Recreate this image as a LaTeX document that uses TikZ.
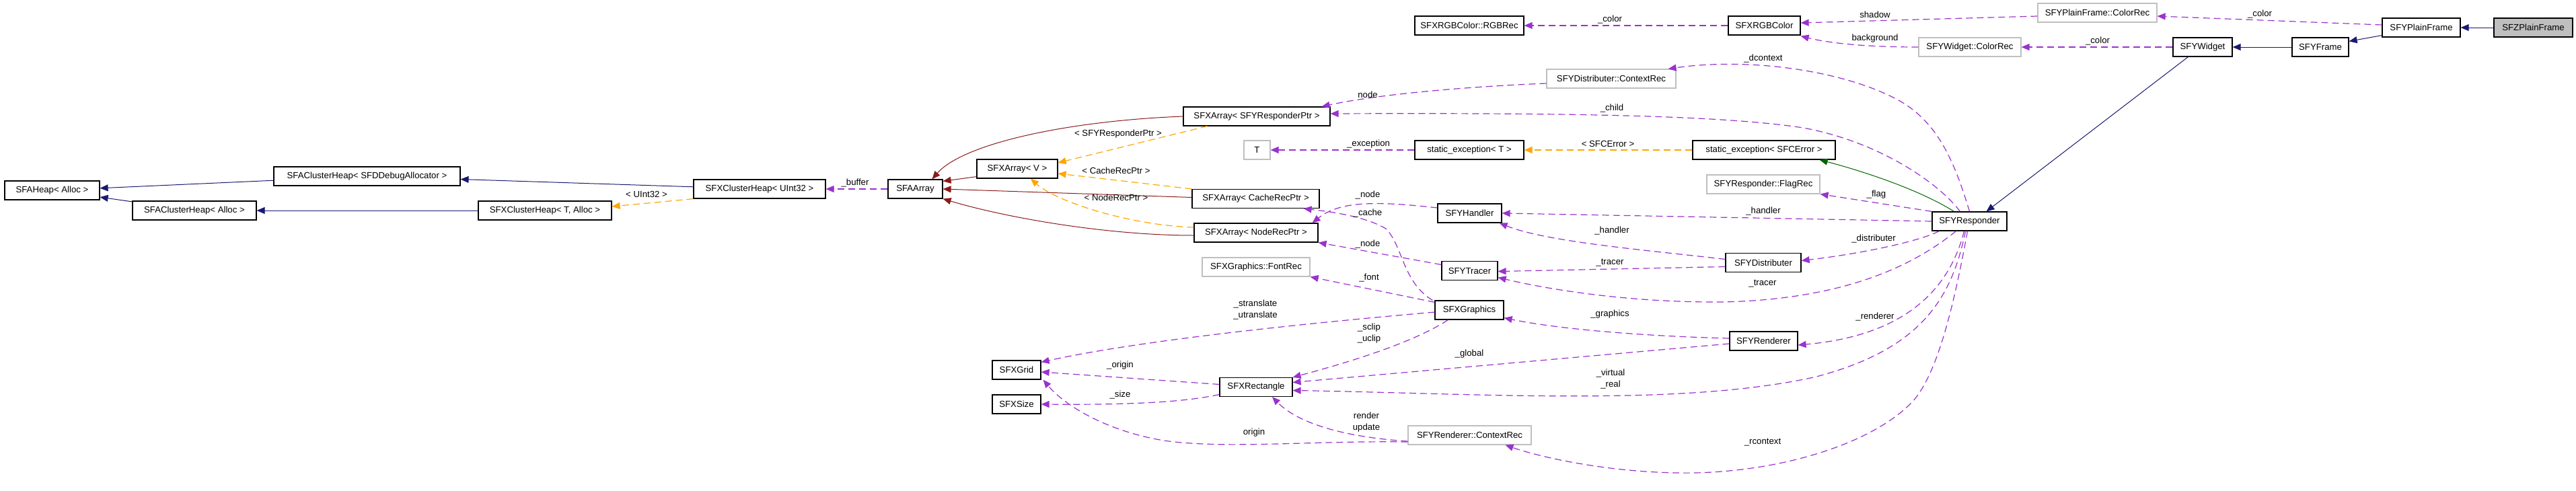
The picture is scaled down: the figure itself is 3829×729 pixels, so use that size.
\documentclass[tikz,border=0pt]{standalone}
\usepackage{fontspec}
\setmainfont{Liberation Sans}
\usetikzlibrary{arrows.meta,calc}
\definecolor{navyc}{HTML}{191970}
\definecolor{firec}{HTML}{8B1A1A}
\definecolor{orchidc}{HTML}{9A32CD}
\definecolor{orangec}{HTML}{FFA500}
\definecolor{greenc}{HTML}{006400}
\definecolor{greyc}{HTML}{BFBFBF}
\tikzset{
  box/.style={draw=black, line width=0.6pt, rectangle, minimum height=14pt, inner sep=0pt, fill=white},
  gbox/.style={box, draw=greyc},
  cur/.style={box, fill=greyc},
  edgebase/.style={line width=0.5pt, -{Triangle[length=6pt,width=5pt]}},
  inh/.style={edgebase, draw=navyc},
  prot/.style={edgebase, draw=firec},
  priv/.style={edgebase, draw=greenc},
  usage/.style={edgebase, line width=0.6pt, draw=orchidc, dash pattern=on 5pt off 3pt},
  tmpl/.style={edgebase, line width=0.6pt, draw=orangec, dash pattern=on 5pt off 3pt},
  lbl/.style={inner sep=0pt, align=center}
}
\begin{document}
\begin{tikzpicture}[x=0.5pt,y=-0.5pt,font=\fontsize{6.6}{8.5}\selectfont]
\useasboundingbox (0,0) rectangle (3829,729);
% nodes
\node[box, minimum width=70.5pt] (heap) at (77.5,283) {SFAHeap< Alloc >};
\node[box, minimum width=138.5pt] (acdbg) at (545.5,262) {SFAClusterHeap< SFDDebugAllocator >};
\node[box, minimum width=92pt] (acheap) at (289,313) {SFAClusterHeap< Alloc >};
\node[box, minimum width=99pt] (xcheapT) at (810,313) {SFXClusterHeap< T, Alloc >};
\node[box, minimum width=98pt] (xcheapU) at (1129,281) {SFXClusterHeap< UInt32 >};
\node[box, minimum width=40.5pt] (aarray) at (1360.5,281) {SFAArray};
\node[box, minimum width=60pt] (xarrV) at (1512,251) {SFXArray< V >};
\node[box, minimum width=109pt] (xarrResp) at (1868,173) {SFXArray< SFYResponderPtr >};
\node[gbox, minimum width=19.5pt] (T) at (1868.5,223) {T};
\node[box, minimum width=94.5pt] (xarrCache) at (1866.5,295.5) {SFXArray< CacheRecPtr >};
\node[box, minimum width=92pt] (xarrNode) at (1867,346) {SFXArray< NodeRecPtr >};
\node[gbox, minimum width=80pt] (fontrec) at (1867,397) {SFXGraphics::FontRec};
\node[box, minimum width=36pt] (grid) at (1511,550) {SFXGrid};
\node[box, minimum width=36pt] (size) at (1511,601) {SFXSize};
\node[box, minimum width=54pt] (rect) at (1867,575.5) {SFXRectangle};
\node[box, minimum width=41.5pt] (tracer) at (2184.5,402.5) {SFYTracer};
\node[box, minimum width=51pt] (graphics) at (2184,461) {SFXGraphics};
\node[gbox, minimum width=91.5pt] (rctx) at (2184.5,647) {SFYRenderer::ContextRec};
\node[box, minimum width=81pt] (rgbrec) at (2184,38) {SFXRGBColor::RGBRec};
\node[gbox, minimum width=96pt] (dctx) at (2395,117) {SFYDistributer::ContextRec};
\node[box, minimum width=81pt] (sexT) at (2184,223) {static\_exception< T >};
\node[box, minimum width=47.5pt] (handler) at (2184.5,317) {SFYHandler};
\node[box, minimum width=53.5pt] (rgb) at (2622.5,38) {SFXRGBColor};
\node[box, minimum width=106pt] (sexE) at (2622,223) {static\_exception< SFCError >};
\node[gbox, minimum width=84pt] (flagrec) at (2621,274) {SFYResponder::FlagRec};
\node[box, minimum width=56pt] (distr) at (2621,390.5) {SFYDistributer};
\node[box, minimum width=50.5pt] (renderer) at (2621.5,507) {SFYRenderer};
\node[gbox, minimum width=76pt] (wcolor) at (2928,70) {SFYWidget::ColorRec};
\node[box, minimum width=55.5pt] (responder) at (2927.5,329) {SFYResponder};
\node[gbox, minimum width=88.5pt] (pfcolor) at (3117.5,19) {SFYPlainFrame::ColorRec};
\node[box, minimum width=44pt] (widget) at (3274,70) {SFYWidget};
\node[box, minimum width=42pt] (frame) at (3449,70) {SFYFrame};
\node[box, minimum width=58pt] (pframe) at (3599,41) {SFYPlainFrame};
\node[cur, minimum width=58.5pt] (zpframe) at (3765.5,41) {SFZPlainFrame};

% heap side
\draw[inh] (acdbg) -- (heap);
\draw[inh] (acheap) -- (heap);
\draw[inh] (xcheapT) -- (acheap);
\draw[inh] (xcheapU) -- (acdbg);
\draw[tmpl] (xcheapU.south west) -- ($(xcheapT.east)+(0,-6)$);
\draw[usage] (aarray) -- (xcheapU);

% array family
\draw[prot] (xarrResp.west) .. controls (1580,180) and (1430,215) .. ($(aarray.north)+(25,0)$);
\draw[prot] ($(xarrV.south west)+(0,-3)$) -- ($(aarray.north east)+(0,3)$);
\draw[prot] ($(xarrCache.west)+(0,-2)$) -- (aarray.east);
\draw[prot] ($(xarrNode.west)+(0,4)$) .. controls (1650,350) and (1500,325) .. (aarray.south east);
\draw[tmpl] ($(xarrResp.south west)+(36,0)$) -- ($(xarrV.east)+(0,-9)$);
\draw[tmpl] (xarrCache.north west) -- ($(xarrV.east)+(0,7)$);
\draw[tmpl] ($(xarrNode.west)+(0,-8)$) .. controls (1680,335) and (1570,300) .. ($(xarrV.south)+(20,0)$);

% exceptions
\draw[usage] (sexT) -- (T);
\draw[tmpl] (sexE) -- (sexT);
\draw[priv] ($(responder.north)+(-23,0)$) .. controls (2850,280) and (2760,252) .. ($(sexE.south east)+(-24,0)$);

% top right
\draw[inh] (zpframe) -- (pframe);
\draw[inh] ($(pframe.south west)+(0,-3)$) -- ($(frame.north east)+(0,6)$);
\draw[inh] (frame) -- (widget);
\draw[inh] ($(widget.south west)+(23,0)$) -- ($(responder.north)+(25,0)$);
\draw[usage] ($(pframe.west)+(0,-4)$) -- ($(pfcolor.east)+(0,5)$);
\draw[usage] (widget) -- (wcolor);
\draw[usage] ($(pfcolor.west)+(0,5)$) -- ($(rgb.east)+(0,-4)$);
\draw[usage] (wcolor.west) .. controls (2760,70) and (2710,62) .. ($(rgb.south east)+(0,1)$);
\draw[usage] (rgb) -- (rgbrec);

% responder members
\draw[usage] (responder.north) .. controls (2905,240) and (2880,180) .. (2820,148) .. controls (2740,105) and (2600,85) .. ($(dctx.north east)+(-12,0)$);
\draw[usage] ($(responder.north)+(-14,0)$) .. controls (2880,270) and (2790,210) .. (2680,190) .. controls (2550,170) and (2300,168) .. ($(xarrResp.east)+(0,-4)$);
\draw[usage] (responder.north west) -- (flagrec.south east);
\draw[usage] (responder.west) -- (handler.east);
\draw[usage] ($(responder.south west)+(11,0)$) .. controls (2850,360) and (2760,378) .. ($(distr.east)+(0,-3)$);
\draw[usage] ($(responder.south)+(-20,0)$) .. controls (2850,390) and (2750,445) .. (2560,449) .. controls (2420,450) and (2300,430) .. ($(tracer.east)+(0,10)$);
\draw[usage] ($(responder.south)+(-8,0)$) .. controls (2895,440) and (2820,500) .. ($(renderer.east)+(0,6)$);
\draw[usage] ($(responder.south)+(-6,0)$) .. controls (2900,450) and (2850,520) .. (2700,560) .. controls (2500,605) and (2200,585) .. ($(rect.east)+(0,5)$);
\draw[usage] ($(responder.south)+(-3,0)$) .. controls (2905,450) and (2880,560) .. (2840,600) .. controls (2780,660) and (2650,700) .. (2520,703) .. controls (2400,705) and (2290,680) .. ($(rctx.south)+(53,0)$);

% middle members
\draw[usage] ($(distr.west)+(0,6)$) -- ($(tracer.east)+(0,1)$);
\draw[usage] ($(distr.west)+(0,-5)$) .. controls (2450,372) and (2300,360) .. ($(handler.south east)+(-4,0)$);
\draw[usage] ($(renderer.west)+(0,-4)$) .. controls (2450,500) and (2320,490) .. ($(graphics.south east)+(0,-3)$);
\draw[usage] ($(renderer.west)+(0,4)$) -- ($(rect.east)+(0,-7)$);
\draw[usage] ($(graphics.south west)+(20,0)$) .. controls (2100,510) and (2000,540) .. (rect.north east);
\draw[usage] ($(graphics.west)+(0,3)$) .. controls (1950,480) and (1700,505) .. ($(grid.north east)+(0,3)$);
\draw[usage] ($(graphics.north west)+(0,3)$) -- (fontrec.south east);
\draw[usage] ($(graphics.north west)+(-3,0)$) .. controls (2085,420) and (2085,365) .. (2060,340) .. controls (2030,322) and (1980,315) .. ($(xarrCache.south east)+(-24,0)$);
\draw[usage] ($(handler.west)+(0,-8)$) .. controls (2040,298) and (1990,300) .. ($(xarrNode.north east)+(-9,0)$);
\draw[usage] ($(tracer.west)+(0,-9)$) -- (xarrNode.south east);
\draw[usage] ($(dctx.west)+(0,7)$) .. controls (2200,128) and (2060,138) .. ($(xarrResp.north east)+(-13,0)$);
\draw[usage] ($(rctx.west)+(0,9)$) .. controls (2000,650) and (1930,630) .. ($(rect.south)+(24,0)$);
\draw[usage] ($(rctx.west)+(0,10)$) .. controls (1950,655) and (1820,668) .. (1730,655) .. controls (1640,640) and (1580,600) .. ($(grid.south east)+(3,0)$);
\draw[usage] ($(rect.west)+(0,-4)$) -- ($(grid.east)+(0,3)$);
\draw[usage] ($(rect.west)+(0,11)$) .. controls (1760,598) and (1680,602) .. (size.east);

% labels
\node[lbl] (l1) at (961,289) {< UInt32 >};
\node[lbl] (l2) at (1271,272) {\_buffer};
\node[lbl] (l3) at (1662,199) {< SFYResponderPtr >};
\node[lbl] (l4) at (1659,254) {< CacheRecPtr >};
\node[lbl] (l5) at (1659,294) {< NodeRecPtr >};
\node[lbl] (l6) at (2034,214) {\_exception};
\node[lbl] (l7) at (2390,214) {< SFCError >};
\node[lbl] (l8) at (2393,29) {\_color};
\node[lbl] (l9) at (2787,22) {shadow};
\node[lbl] (l10) at (2787,57) {background};
\node[lbl] (l11) at (2621,87) {\_dcontext};
\node[lbl] (l12) at (2033,141) {node};
\node[lbl] (l13) at (2396,161) {\_child};
\node[lbl] (l14) at (2789,289) {\_flag};
\node[lbl] (l15) at (2621,314) {\_handler};
\node[lbl] (l16) at (2033,290) {\_node};
\node[lbl] (l17) at (2033,317) {\_cache};
\node[lbl] (l18) at (2396,343) {\_handler};
\node[lbl] (l19) at (2785,355) {\_distributer};
\node[lbl] (l20) at (2033,363) {\_node};
\node[lbl] (l21) at (2393,391) {\_tracer};
\node[lbl] (l22) at (2620,422) {\_tracer};
\node[lbl] (l23) at (2035,413) {\_font};
\node[lbl] (l24) at (2393,467) {\_graphics};
\node[lbl] (l25) at (2787,471) {\_renderer};
\node[lbl] (l26) at (1866,461) {\_stranslate\\\_utranslate};
\node[lbl] (l27) at (2035,496) {\_sclip\\\_uclip};
\node[lbl] (l28) at (2184,526) {\_global};
\node[lbl] (l29) at (2394,564) {\_virtual\\\_real};
\node[lbl] (l30) at (1665,543) {\_origin};
\node[lbl] (l31) at (1665,587) {\_size};
\node[lbl] (l32) at (2031,628) {render\\update};
\node[lbl] (l33) at (1864,643) {origin};
\node[lbl] (l34) at (2620,658) {\_rcontext};
\node[lbl] (l35) at (3359,21) {\_color};
\node[lbl] (l36) at (3118,61) {\_color};
\end{tikzpicture}
\end{document}
